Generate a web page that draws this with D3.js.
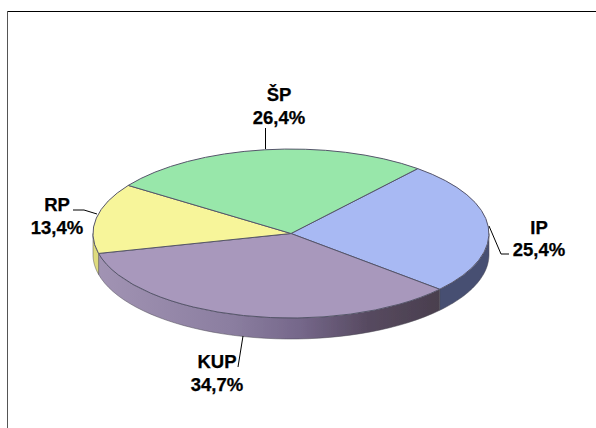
<!DOCTYPE html>
<html><head><meta charset="utf-8">
<script src="https://cdn.jsdelivr.net/npm/d3@7"></script>
<style>html,body{margin:0;padding:0;background:#fff}svg{display:block}text{font-family:"Liberation Sans",Arial,sans-serif;font-weight:bold;font-size:18.5px;fill:#000;stroke:#000;stroke-width:0.25px}</style>
</head><body><svg id="c" width="596" height="428"></svg>
<script>
const categories = ["IP","KUP","RP","ŠP"];
const values = [25.4,34.7,13.4,26.4];
const valueLabels = ["25,4%","34,7%","13,4%","26,4%"];
const topColors = ["#a8b9f3","#a898bc","#f7f59a","#98e7aa"];
const sideColors = ["#474f72","url(#kup)","#dedb7e","#6fae80"];
const kupStops = [[0,"#a294b4"],[0.4,"#8b7ea0"],[0.6,"#75678a"],[0.8,"#56495f"],[1,"#4a3f4e"]];

const svg = d3.select("#c");
const W=596,H=428;
const cx=291, cy=233.5, rx=198, ry=84.5, depth=21;
const x = d3.scaleLinear().domain([-1,1]).range([cx-rx,cx+rx]);
const y = d3.scaleLinear().domain([-1,1]).range([cy-ry,cy+ry]);
const start = 39.8*Math.PI/180;
const arcs = d3.pie().sort(null).value(d=>d).startAngle(start).endAngle(start+2*Math.PI)(values);

const defs = svg.append("defs");
const g = defs.append("linearGradient").attr("id","kup").attr("gradientUnits","userSpaceOnUse")
  .attr("x1",x(-1)).attr("x2",x(0.75)).attr("y1",0).attr("y2",0);
kupStops.forEach(s=>g.append("stop").attr("offset",s[0]).attr("stop-color",s[1]));
const blur = defs.append("filter").attr("id","soft").attr("x","-5%").attr("y","-5%").attr("width","110%").attr("height","110%");
blur.append("feGaussianBlur").attr("stdDeviation",0.45);

// frame
svg.append("line").attr("x1",7).attr("x2",W).attr("y1",11.5).attr("y2",11.5).attr("stroke","#000").attr("stroke-width",1);
svg.append("line").attr("x1",7.5).attr("x2",7.5).attr("y1",11).attr("y2",H).attr("stroke","#555").attr("stroke-width",1);

const px = a=>x(Math.sin(a)), py = a=>y(-Math.cos(a));
const pie = svg.append("g").attr("filter","url(#soft)");

// side walls
function wall(a0,a1){
  const pts=d3.range(0,41).map(i=>a0+(a1-a0)*i/40);
  const up=pts.map(a=>[px(a),py(a)]);
  const down=pts.slice().reverse().map(a=>[px(a),py(a)+depth]);
  return d3.line()(up.concat(down))+"Z";
}
arcs.forEach((d,i)=>{
  const lo=Math.max(d.startAngle,Math.PI/2), hi=Math.min(d.endAngle,Math.PI*1.5);
  if(hi>lo) pie.append("path").attr("d",wall(lo,hi)).attr("fill",sideColors[i])
    .attr("stroke","#4d4a55").attr("stroke-width",0.5);
});

// top faces
const arcGen = d3.arc().innerRadius(0).outerRadius(1);
arcs.forEach((d,i)=>{
  pie.append("path").attr("d",arcGen(d))
    .attr("transform",`translate(${x(0)},${y(0)}) scale(${rx},${ry})`)
    .attr("fill",topColors[i]).attr("stroke","#55556a").attr("stroke-width",1)
    .attr("vector-effect","non-scaling-stroke");
});

// leaders and labels
const leaders = [
  [[489,226],[501,254],[509,254]],
  [[243,336],[238,367]],
  [[97,214],[84,210],[73,210]],
  [[265.5,149],[265.5,128]]
];
const labelPos = [
  {x:539,y1:234,y2:256},
  {x:217,y1:368,y2:391},
  {x:57,y1:211,y2:234},
  {x:279,y1:101,y2:124}
];
leaders.forEach(p=>svg.append("path").attr("d",d3.line()(p)).attr("fill","none").attr("stroke","#000").attr("stroke-width",1));
categories.forEach((c,i)=>{
  const t=svg.append("text").attr("text-anchor","middle");
  t.append("tspan").attr("x",labelPos[i].x).attr("y",labelPos[i].y1).text(c);
  t.append("tspan").attr("x",labelPos[i].x).attr("y",labelPos[i].y2).text(valueLabels[i]);
});
</script></body></html>
